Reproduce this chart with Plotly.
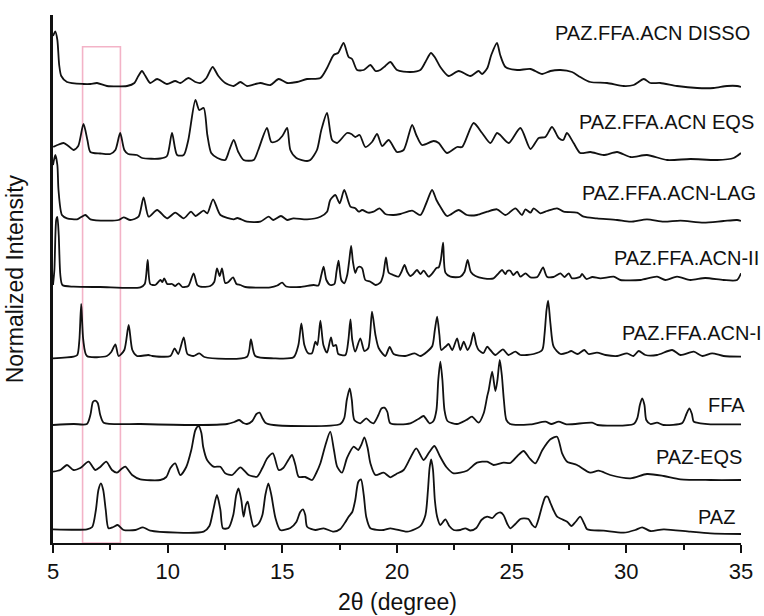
import plotly.graph_objects as go

# ---------------- data (2theta in degrees, stacked normalized intensity) ----------------
disso_x = [5.00, 5.10, 5.19, 5.27, 5.36, 5.61, 6.33, 6.63, 6.92, 7.35, 8.23, 8.55, 8.72, 8.88, 9.03, 9.24, 9.54, 9.97,
           10.33, 10.55, 10.91, 11.21, 11.42, 11.69, 11.96, 12.21, 12.51, 12.88, 13.17, 13.46, 14.04, 14.48, 14.84,
           15.21, 15.64, 16.08, 16.66, 16.95, 17.24, 17.43, 17.67, 17.89, 18.04, 18.26, 18.55, 18.84, 19.06, 19.27,
           19.49, 19.71, 20.00, 20.58, 21.02, 21.24, 21.48, 21.67, 21.89, 22.25, 22.69, 23.20, 23.56, 23.71, 23.94,
           24.11, 24.36, 24.50, 24.73, 25.24, 25.82, 26.33, 26.69, 27.13, 27.63, 27.99, 28.43, 29.16, 29.88, 30.32,
           30.76, 31.05, 31.48, 32.21, 33.09, 33.81, 34.39, 34.83, 35.00]
disso_y = [507, 511.5, 503, 478, 467, 461, 459, 459, 460, 457, 457, 460, 467, 472, 467, 460, 464, 459,
           462, 460, 465, 461, 460, 465, 476, 467, 460, 457, 461, 457, 460, 458, 464,
           460, 461, 464, 465, 475, 488, 490, 500, 486, 484, 473, 473, 478, 472, 473,
           477, 481, 473, 471, 473, 481, 490, 485, 476, 467, 472, 467, 472, 469, 475,
           488, 500, 488, 476, 473, 474, 469, 472, 473, 471, 466, 461, 460, 457, 458,
           464, 460, 460, 457, 455, 455, 457, 457, 456]

acn_eqs_x = [5.01, 5.19, 5.46, 5.67, 5.90, 6.10, 6.33, 6.50, 6.63, 7.06, 7.50, 7.72, 7.93, 8.11, 8.28, 8.66, 8.89,
             9.68, 9.97, 10.19, 10.41, 10.70, 10.90, 11.21, 11.38, 11.57, 11.73, 11.90, 12.17, 12.51, 12.69, 12.88,
             13.08, 13.31, 13.75, 13.95, 14.33, 14.52, 14.77, 15.00, 15.21, 15.35, 15.61, 16.08, 16.22, 16.51,
             16.70, 16.95, 17.17, 17.39, 17.82, 18.01, 18.18, 18.37, 18.62, 18.91, 19.13, 19.35, 19.64, 20.00,
             20.29, 20.66, 20.84, 21.09, 21.60, 21.82, 22.18, 22.62, 22.84, 23.34, 23.71, 24.07, 24.36, 24.50,
             24.87, 25.38, 25.82, 26.18, 26.47, 26.76, 27.05, 27.25, 27.41, 27.70, 27.99, 28.43, 29.01, 29.60,
             30.18, 30.90, 31.78, 32.79, 33.96, 34.68, 35.00]
acn_eqs_y = [396, 398, 400, 397, 393, 397, 419, 403, 391, 389.5, 389, 393, 410, 393, 389, 388, 385,
             384.5, 387, 410, 388, 388, 403, 443, 433, 435, 408, 390, 385, 383, 393, 403,
             391, 383, 383, 393, 415, 401, 402, 407, 415, 393, 385, 382, 383, 393,
             413, 430, 403, 400, 410, 409, 406, 408, 396, 401, 409, 397, 403, 391,
             393, 418, 408, 398, 402, 400, 390, 396, 396, 420, 410, 400, 410, 408,
             400, 415, 394, 405, 406, 416, 405, 403, 410, 400, 390, 391, 388, 391,
             386, 388, 383, 384, 383, 385, 390]

lag_x = [5.00, 5.10, 5.19, 5.24, 5.39, 5.61, 6.05, 6.23, 6.41, 6.63, 7.35, 7.86, 8.08, 8.37, 8.73, 8.95, 9.17,
         9.54, 9.97, 10.33, 10.70, 11.02, 11.21, 11.57, 11.73, 11.98, 12.30, 12.88, 13.04, 13.46, 14.04, 14.40,
         14.61, 14.94, 15.21, 15.48, 16.08, 16.66, 16.95, 17.09, 17.31, 17.50, 17.70, 17.97, 18.18, 18.33,
         18.48, 18.75, 18.98, 19.24, 19.49, 19.85, 20.15, 20.66, 21.02, 21.28, 21.53, 21.72, 21.89, 22.18,
         22.69, 23.05, 23.49, 23.93, 24.36, 24.73, 25.16, 25.45, 25.60, 25.82, 25.96, 26.25, 26.54, 26.98,
         27.27, 27.85, 28.14, 28.72, 29.60, 30.18, 30.90, 31.63, 32.36, 33.37, 34.24, 34.83, 35.00]
lag_y = [378, 388, 378, 353, 328, 324.7, 323.7, 326, 328, 323.7, 322.3, 323, 325.7, 323, 326.3, 345.7, 326.3,
         333, 324.7, 330.3, 324.7, 331.3, 327, 332.3, 329.7, 343.7, 328, 323.7, 325, 321.3, 321.3, 326.3,
         323, 327, 323, 324.7, 323.7, 326.3, 331.3, 343, 348, 339.7, 353, 336.3, 334.7, 331.3,
         333, 330.3, 331.3, 334.7, 329, 328, 329, 332.3, 328, 340, 353, 343, 336.3, 327,
         333, 328, 328, 331.3, 333.7, 328, 334.7, 328, 333.7, 330.3, 334.7, 329.7, 332, 334.7,
         331.3, 330.3, 326.3, 324.7, 323, 321.3, 323.7, 321.3, 322.3, 320.3, 322, 323, 322]

acn2_x = [5.00, 5.06, 5.14, 5.19, 5.25, 5.32, 5.41, 5.90, 7.06, 8.81, 9.00, 9.13, 9.24, 9.46, 9.68, 9.77, 9.85,
          9.98, 10.19, 10.33, 10.48, 10.64, 10.90, 11.13, 11.29, 11.42, 11.86, 12.03, 12.15, 12.27, 12.37,
          12.51, 12.65, 12.85, 13.00, 13.17, 13.39, 14.48, 14.78, 14.99, 15.17, 15.78, 16.37, 16.57, 16.70,
          16.80, 16.92, 17.09, 17.27, 17.36, 17.45, 17.57, 17.70, 17.83, 17.92, 18.00, 18.08, 18.18, 18.27,
          18.36, 18.48, 18.62, 18.84, 19.06, 19.27, 19.40, 19.52, 19.64, 19.84, 20.07, 20.19, 20.33, 20.45,
          20.58, 20.71, 20.87, 21.02, 21.16, 21.38, 21.60, 21.72, 21.82, 21.91, 22.01, 22.11, 22.33, 22.76,
          22.94, 23.08, 23.22, 23.42, 23.78, 24.21, 24.43, 24.58, 24.73, 24.81, 24.94, 25.07, 25.24, 25.38,
          25.60, 25.82, 26.12, 26.25, 26.37, 26.54, 26.82, 27.13, 27.30, 27.49, 27.63, 27.99, 28.07, 28.26,
          28.52, 28.87, 29.45, 29.74, 30.61, 31.34, 31.70, 32.21, 32.79, 33.44, 34.24, 34.83, 35.00]
acn2_y = [258, 273, 323, 326, 308, 268, 258, 256.3, 256, 255.7, 259, 283, 259, 258, 263, 261, 264.7,
          259, 259, 257, 259.7, 256, 257, 269.7, 258, 256.3, 257, 261, 274.7, 267, 274.7,
          260, 261, 265.7, 259, 258, 256, 255.7, 257.5, 260.3, 256.5, 256, 258, 257.5, 268,
          276.3, 263, 258, 259, 271, 282.3, 263, 259.7, 268, 283, 297, 281, 270, 275,
          276.3, 274.7, 263, 261.3, 258, 260.3, 268, 285.7, 270.3, 268, 266.3, 271, 278, 271,
          267, 269, 273, 269, 272.3, 266.3, 271.3, 275, 275.7, 283, 300.3, 270.3, 266.3, 266.3,
          271, 283, 271, 267, 264.7, 264.7, 269.7, 273, 269, 272, 272.3, 268, 271.3, 266.3,
          269.7, 265.7, 266, 271, 275.7, 266.3, 266, 269.7, 266, 269.7, 264.7, 266.3, 269, 264,
          266, 264.7, 266.3, 263, 263, 266.3, 263, 266.3, 263, 265, 263, 263, 269.7]

acn1_x = [5.00, 5.90, 6.06, 6.15, 6.23, 6.32, 6.48, 7.35, 7.54, 7.72, 7.86, 8.11, 8.30, 8.46, 8.66, 9.16, 9.33,
          10.12, 10.30, 10.46, 10.70, 10.86, 11.12, 11.38, 11.60, 13.46, 13.63, 13.82, 14.62, 15.49, 15.70,
          15.83, 15.96, 16.13, 16.29, 16.44, 16.53, 16.66, 16.79, 16.95, 17.12, 17.22, 17.34, 17.44, 17.75,
          17.88, 17.97, 18.05, 18.18, 18.40, 18.58, 18.75, 18.91, 19.06, 19.20, 19.49, 19.68, 19.85, 20.36,
          20.77, 21.02, 21.31, 21.54, 21.65, 21.75, 21.85, 21.93, 22.11, 22.25, 22.41, 22.62, 22.76, 22.91,
          23.07, 23.20, 23.34, 23.46, 23.56, 23.77, 23.93, 24.07, 24.29, 24.62, 24.86, 25.16, 25.38, 25.96,
          26.33, 26.43, 26.52, 26.59, 26.69, 26.83, 27.13, 27.42, 27.60, 27.87, 28.17, 28.35, 28.72, 29.09,
          29.60, 30.03, 30.31, 30.54, 30.83, 31.34, 32.00, 32.36, 32.94, 33.32, 33.74, 34.24, 35.00]
acn1_y = [184.7, 186.3, 188, 203, 239, 203, 187, 187, 191, 198.7, 187, 193, 218, 193, 187, 188, 187,
          187, 194.7, 189, 205.7, 189, 187, 189.7, 186, 186.3, 203.7, 187, 184.7, 185.7, 198,
          219.7, 198, 189.7, 189.7, 201.3, 198, 222.3, 198, 190.3, 205.7, 197, 198, 189, 188,
          203, 223.7, 203, 191.3, 204.7, 192, 195, 231.3, 208, 195, 187, 196, 189, 187,
          189.7, 187, 191.3, 197, 213, 226.3, 208, 193, 196.3, 199, 193, 204.7, 193, 201.3,
          193, 198, 210.3, 198, 193, 190, 196.3, 193, 188, 193.7, 188, 191.3, 188, 189,
          193, 208, 233, 242.3, 219.7, 196.3, 189, 190.3, 192, 189, 193, 189, 190.3, 188,
          187, 189.7, 187, 192, 188, 188, 193, 188, 191.3, 187, 189.7, 187, 186.3]

ffa_x = [5.00, 5.90, 6.48, 6.63, 6.74, 6.84, 6.95, 7.06, 7.21, 8.81, 11.28, 12.59, 12.91, 13.12, 13.30, 13.46,
         13.69, 13.87, 14.01, 14.13, 14.26, 14.62, 17.53, 17.70, 17.81, 17.94, 18.03, 18.14, 18.40, 18.66,
         18.84, 18.98, 19.19, 19.32, 19.45, 19.58, 19.71, 20.58, 20.93, 21.16, 21.42, 21.59, 21.72, 21.80,
         21.89, 21.98, 22.07, 22.20, 22.62, 23.02, 23.27, 23.56, 23.78, 23.93, 24.00, 24.15, 24.29, 24.38,
         24.48, 24.57, 24.66, 24.77, 24.94, 25.82, 26.47, 26.73, 27.05, 27.39, 28.51, 28.74, 30.32, 30.48,
         30.59, 30.69, 30.79, 30.87, 31.05, 31.34, 31.62, 32.44, 32.62, 32.75, 32.86, 32.94, 33.23, 33.67, 35.00]
ffa_y = [118, 119, 119, 128, 141, 142.3, 140, 128, 120.3, 119, 118, 119, 121, 123, 120, 119,
         122, 129, 130.3, 125, 120.3, 118, 119, 125, 143, 154.7, 143, 123, 119.7, 124.7,
         121, 119.7, 128, 134.5, 135.3, 131, 119.7, 119.7, 124, 127, 119.7, 122, 133, 163,
         181.3, 163, 133, 122, 119, 123, 126.3, 120.3, 129.7, 146.3, 153, 171.3, 152, 163,
         183, 168, 143, 123, 119, 118.7, 121.3, 119, 121.3, 118.7, 120.3, 118, 119, 125,
         138, 144.7, 138, 123, 119, 120.3, 118, 120, 129, 134.7, 129, 121.3, 119.7, 118.7, 118.7]

paz_eqs_x = [5.00, 5.32, 5.61, 5.90, 6.19, 6.55, 6.84, 7.06, 7.32, 7.57, 7.79, 7.98, 8.15, 8.45, 8.81, 9.68,
             9.94, 10.12, 10.33, 10.55, 10.81, 11.03, 11.21, 11.35, 11.47, 11.55, 11.72, 12.00, 12.30, 12.51,
             12.81, 13.17, 13.53, 13.90, 14.13, 14.35, 14.59, 14.84, 15.04, 15.26, 15.42, 15.57, 15.71, 16.00,
             16.30, 16.48, 16.66, 16.88, 17.09, 17.25, 17.39, 17.60, 17.82, 18.11, 18.31, 18.44, 18.58, 18.72,
             18.84, 19.06, 19.42, 19.71, 19.97, 20.29, 20.58, 20.84, 21.16, 21.41, 21.63, 21.89, 22.15, 22.47,
             23.05, 23.49, 23.93, 24.21, 24.65, 24.94, 25.25, 25.52, 25.77, 26.03, 26.34, 26.69, 26.98, 27.20,
             27.42, 27.85, 28.43, 28.79, 29.30, 30.18, 30.90, 31.63, 32.36, 33.67, 35.00]
paz_eqs_y = [71.3, 73, 78, 73, 75, 81.3, 73, 76, 81.3, 73, 70.3, 74, 76.3, 68, 63.7, 63,
             66, 75, 79.7, 68, 76, 93, 113, 117, 110, 96, 83, 76.3, 76.3, 69.7,
             68, 75.7, 68, 66.3, 75, 85, 89.7, 73, 75, 83, 88, 78, 66.3, 66,
             63, 70, 79.7, 98, 111.3, 93, 76.3, 70.3, 85, 96.3, 93, 98, 105.7, 95,
             79.7, 68, 70.3, 65.7, 69, 73, 85, 94.7, 83, 91, 97, 86, 76, 69.7,
             72.3, 80.3, 81.3, 78, 80.3, 80, 87, 92, 85, 79.7, 93, 103.7, 106.3, 89.7,
             81.3, 78, 70.3, 72.3, 68, 64.7, 69, 67, 63.7, 63, 63]

paz_x = [5.00, 6.48, 6.71, 6.87, 6.98, 7.09, 7.19, 7.30, 7.42, 7.63, 7.82, 8.08, 8.59, 8.92, 9.24, 11.57, 11.82,
         11.99, 12.15, 12.30, 12.41, 12.65, 12.86, 12.99, 13.09, 13.21, 13.31, 13.41, 13.49, 13.61, 13.75,
         13.95, 14.13, 14.26, 14.39, 14.52, 14.70, 14.91, 15.35, 15.61, 15.78, 15.90, 16.00, 16.08, 16.44,
         16.80, 17.24, 17.53, 17.75, 17.89, 18.05, 18.18, 18.31, 18.43, 18.55, 18.66, 18.84, 19.42, 19.71,
         20.44, 20.80, 21.02, 21.24, 21.35, 21.42, 21.49, 21.57, 21.65, 21.75, 21.89, 22.11, 22.28, 22.47,
         22.76, 22.98, 23.20, 23.46, 23.68, 23.93, 24.16, 24.33, 24.51, 24.64, 24.81, 24.94, 25.16, 25.38,
         25.52, 25.73, 25.90, 26.03, 26.16, 26.34, 26.47, 26.57, 26.69, 26.82, 26.98, 27.17, 27.42, 27.60,
         27.78, 27.99, 28.17, 28.29, 29.01, 29.88, 30.39, 30.69, 31.05, 31.63, 32.79, 33.67, 35.00]
paz_y = [13.7, 13.7, 16, 33, 53, 59.7, 53, 33, 14.7, 16, 18, 13, 13, 15.7, 12.3, 11.3, 17,
         33, 48, 33, 14.7, 15, 28, 48, 54.7, 43, 26.3, 38, 41.3, 28, 16.3,
         19, 28, 48, 59.7, 48, 25, 13, 15, 21, 31, 33.7, 28, 16.3, 13,
         14.7, 11.3, 14, 21, 26.3, 31, 43, 61, 63.7, 48, 26, 14.7, 13, 14.7,
         11.3, 14, 17, 28, 53, 75, 83.7, 73, 43, 26.3, 18, 23.7, 17, 13,
         13, 14.7, 12.5, 15, 23, 26.3, 25, 29, 30.5, 28, 19, 14.7, 19, 24,
         24.7, 24, 18, 15.7, 23, 38, 46, 46.3, 40, 33, 26.3, 24, 21.3, 17,
         21, 26.3, 19, 13.7, 12.3, 10.3, 13, 15.7, 12, 13.7, 11.3, 9.7, 9]

series_names = ["PAZ.FFA.ACN DISSO", "PAZ.FFA.ACN EQS", "PAZ.FFA.ACN-LAG", "PAZ.FFA.ACN-II",
                "PAZ.FFA.ACN-I", "FFA", "PAZ-EQS", "PAZ"]
series_x = [disso_x, acn_eqs_x, lag_x, acn2_x, acn1_x, ffa_x, paz_eqs_x, paz_x]
series_y = [disso_y, acn_eqs_y, lag_y, acn2_y, acn1_y, ffa_y, paz_eqs_y, paz_y]

# label anchor (left edge, 2theta) and height (stacked intensity units)
label_x = [26.81, 27.85, 27.99, 29.38, 29.72, 33.49, 31.19, 33.05]
label_y = [510, 421.3, 349.7, 284.7, 209.7, 138, 86.3, 26.3]

highlight_range = [6.29, 7.94]
highlight_top = 496.3

tick_vals = [5, 10, 15, 20, 25, 30, 35]

FONT = "Arial, Liberation Sans, Helvetica, sans-serif"

fig = go.Figure()
for name, xs, ys in zip(series_names, series_x, series_y):
    fig.add_trace(go.Scatter(x=xs, y=ys, mode="lines", name=name,
                             line=dict(color="#111111", width=1.8, shape="spline", smoothing=0.7),
                             showlegend=False, hoverinfo="skip"))

for name, lx, ly in zip(series_names, label_x, label_y):
    fig.add_annotation(x=lx, y=ly, xref="x", yref="y", text=name, showarrow=False,
                       xanchor="left", yanchor="middle",
                       font=dict(family=FONT, size=20, color="#111111"))

fig.add_shape(type="rect", xref="x", yref="y",
              x0=highlight_range[0], x1=highlight_range[1], y0=0, y1=highlight_top,
              line=dict(color="#f3b3c7", width=1.6), layer="below")

fig.add_annotation(xref="paper", yref="paper", x=-0.0548, y=0.5, text="Normalized Intensity",
                   textangle=-90, showarrow=False, xanchor="center", yanchor="middle",
                   font=dict(family=FONT, size=23, color="#111111"))
fig.add_annotation(xref="paper", yref="paper", x=0.5, y=-0.1117, text="2θ (degree)",
                   showarrow=False, xanchor="center", yanchor="middle",
                   font=dict(family=FONT, size=23, color="#111111"))

fig.update_xaxes(range=[5, 35], tickvals=tick_vals, ticks="outside", ticklen=8, tickwidth=2,
                 tickcolor="#111111", showline=True, linewidth=2, linecolor="#111111",
                 showgrid=False, zeroline=False,
                 tickfont=dict(family=FONT, size=22, color="#111111"),
                 minor=dict(ticks="outside", ticklen=5, tickwidth=2, tickcolor="#111111", dtick=2.5,
                            tick0=5, showgrid=False))
fig.update_yaxes(range=[0, 528], showticklabels=False, ticks="", showline=True, linewidth=2.5,
                 linecolor="#111111", showgrid=False, zeroline=False)

fig.update_layout(width=764, height=616, margin=dict(l=53, r=23, t=15, b=73),
                  plot_bgcolor="white", paper_bgcolor="white")

fig.write_html("out.html", config={"displayModeBar": False},
               post_script="document.body.style.margin='0';")
